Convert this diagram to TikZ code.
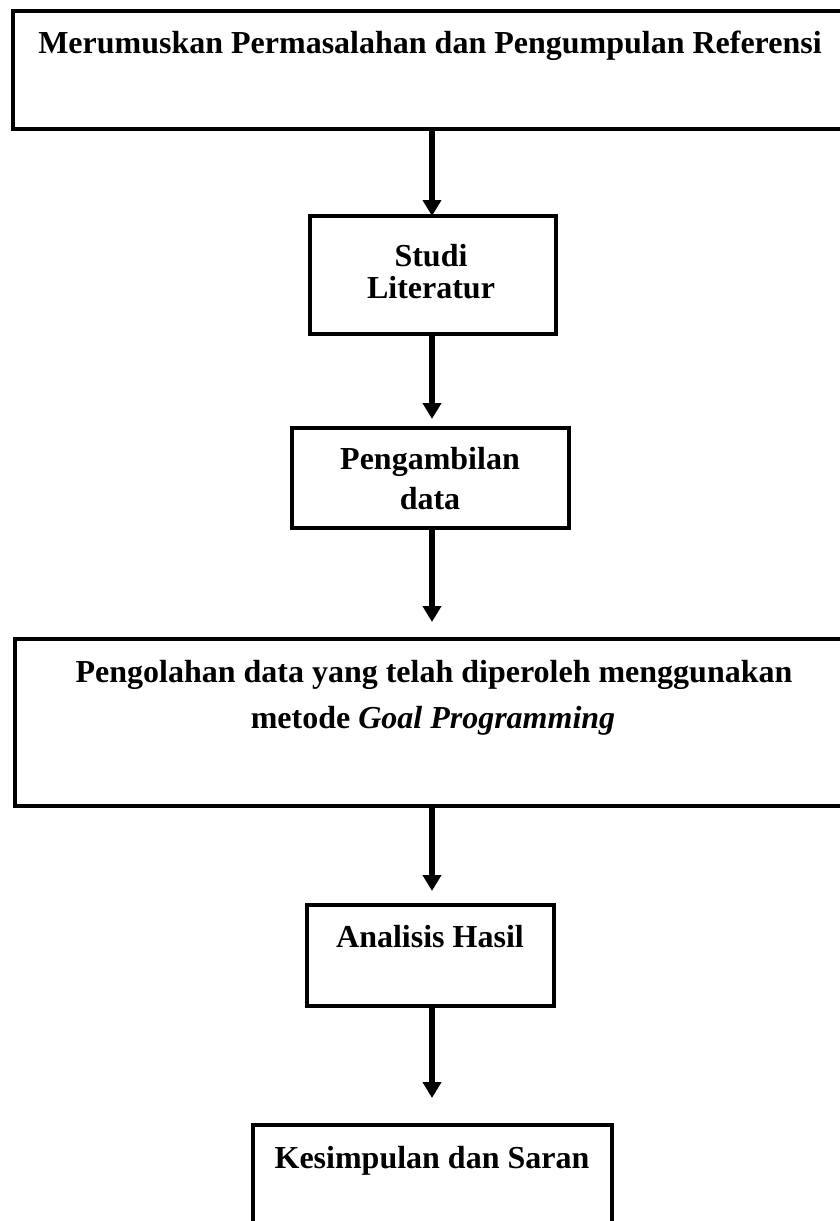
\documentclass[tikz,border=0pt]{standalone}
\usepackage{fontspec}
\setmainfont{Liberation Serif}
\usetikzlibrary{arrows.meta}
\begin{document}
\begin{tikzpicture}[x=1pt,y=-1pt,
  box/.style={draw=black, line width=4pt, rectangle, inner sep=0pt, fill=none},
  lbl/.style={anchor=base, inner sep=0pt, font=\fontsize{32}{38}\selectfont\bfseries},
  flow/.style={line width=6pt, -{Triangle[width=18pt,length=16pt]}}]
\useasboundingbox (0,0) rectangle (840,1221);
\clip (0,0) rectangle (840,1221);
% boxes
\node[box, minimum width=835pt, minimum height=118.5pt] (b1) at (430.5,70) {};
\node[box, minimum width=246pt, minimum height=118pt] (b2) at (433,275) {};
\node[box, minimum width=277pt, minimum height=100pt] (b3) at (430.5,478) {};
\node[box, minimum width=835pt, minimum height=167pt] (b4) at (432.5,722.5) {};
\node[box, minimum width=247pt, minimum height=101pt] (b5) at (430.5,955.5) {};
\node[box, minimum width=359pt, minimum height=115pt] (b6) at (432.5,1182.5) {};
% texts
\node[lbl] (l1) at (430,53) {Merumuskan Permasalahan dan Pengumpulan Referensi};
\node[lbl] (l2a) at (431,266) {Studi};
\node[lbl] (l2b) at (431,298) {Literatur};
\node[lbl] (l3a) at (430,469) {Pengambilan};
\node[lbl] (l3b) at (430,509) {data};
\node[lbl] (l4a) at (434,682) {Pengolahan data yang telah diperoleh menggunakan};
\node[lbl] (l4b) at (433,728) {metode \textit{Goal Programming}};
\node[lbl] (l5) at (430,947) {Analisis Hasil};
\node[lbl] (l6) at (432,1168) {Kesimpulan dan Saran};
% arrow tips
\coordinate (t2) at (432,216);
\coordinate (t3) at (432,419);
\coordinate (t4) at (432,622);
\coordinate (t5) at (432,891);
\coordinate (t6) at (432,1098);
\draw[flow] (b1.south -| t2) -- (t2);
\draw[flow] (b2.south -| t3) -- (t3);
\draw[flow] (b3.south -| t4) -- (t4);
\draw[flow] (b4.south -| t5) -- (t5);
\draw[flow] (b5.south -| t6) -- (t6);
\end{tikzpicture}
\end{document}
